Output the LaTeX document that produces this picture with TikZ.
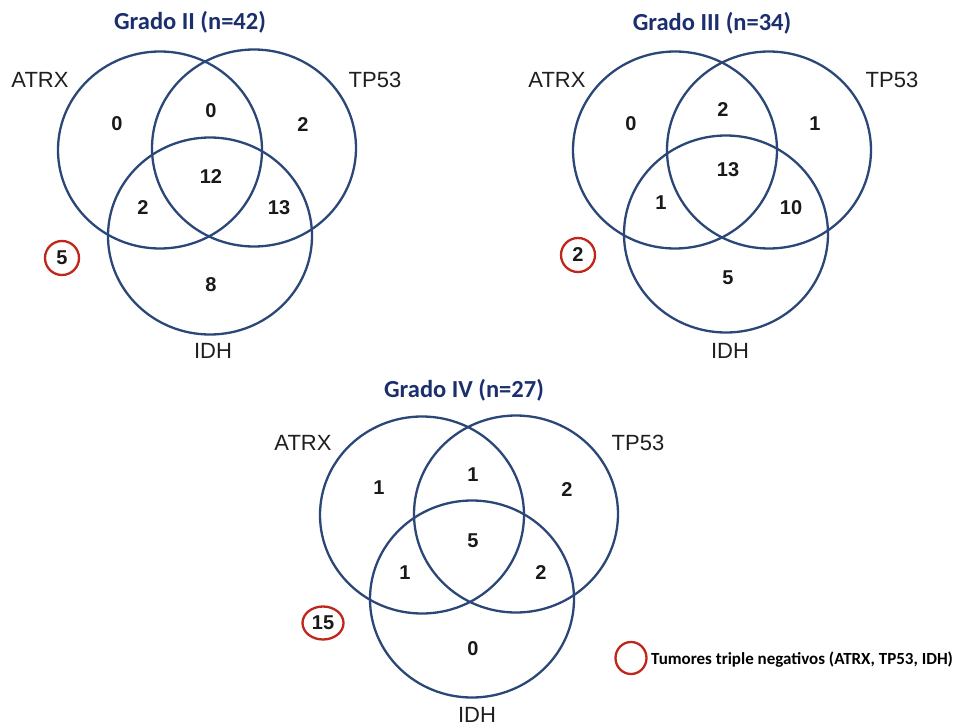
\documentclass[tikz,border=0pt]{standalone}
\usepackage{fontspec}
\setmainfont{Liberation Sans}
\newfontfamily\calfont{Carlito}
\usetikzlibrary{shapes.geometric}
\definecolor{navy}{HTML}{2B4778}
\definecolor{titleblue}{HTML}{1B2F6E}
\definecolor{negred}{HTML}{C0261A}
\begin{document}
\begin{tikzpicture}[x=1pt,y=-1pt,
  setring/.style={draw=navy, line width=2.3pt, ellipse, minimum width=204pt, minimum height=197pt, inner sep=0pt},
  setlabel/.style={font=\fontsize{22}{22}\selectfont, text=black!88, inner sep=0pt},
  count/.style={font=\bfseries\fontsize{20}{20}\selectfont, text=black!90, inner sep=0pt},
  gtitle/.style={font=\calfont\bfseries\fontsize{24.5}{24.5}\selectfont, text=titleblue, inner sep=0pt},
  negmark/.style={draw=negred, line width=2.3pt, ellipse, minimum width=34pt, minimum height=34pt, inner sep=0pt, font=\bfseries\fontsize{20}{20}\selectfont, text=black!90},
  legtext/.style={font=\calfont\bfseries\fontsize{17}{17}\selectfont, text=black, inner sep=0pt, anchor=west}]
\fill[white] (0,0) rectangle (956,728);
\useasboundingbox (0,0) rectangle (956,728);

% ---------- Grado II ----------
\node[gtitle] (t2) at (190,22) {Grado II (n=42)};
\node[setring] (a2) at (160,150) {};
\node[setring] (p2) at (254,148) {};
\node[setring] (i2) at (210,236) {};
\node[setlabel] (la2) at (40,80) {ATRX};
\node[setlabel] (lp2) at (375,80) {TP53};
\node[setlabel] (li2) at (213,351) {IDH};
\node[count] at (117,124) {0};
\node[count] at (211,111) {0};
\node[count] at (303,125) {2};
\node[count] at (211,177) {12};
\node[count] at (143,208) {2};
\node[count] at (279,208) {13};
\node[count] at (211,285) {8};
\node[negmark] (n2) at (62,258) {5};

% ---------- Grado III ----------
\node[gtitle] (t3) at (712,23) {Grado III (n=34)};
\node[setring] (a3) at (675,150) {};
\node[setring] (p3) at (769,150) {};
\node[setring] (i3) at (726,234) {};
\node[setlabel] (la3) at (557,80) {ATRX};
\node[setlabel] (lp3) at (892,80) {TP53};
\node[setlabel] (li3) at (730,351) {IDH};
\node[count] at (631,124) {0};
\node[count] at (723,110) {2};
\node[count] at (815,124) {1};
\node[count] at (728,170) {13};
\node[count] at (661,203) {1};
\node[count] at (791,208) {10};
\node[count] at (728,278) {5};
\node[negmark] (n3) at (578,255) {2};

% ---------- Grado IV ----------
\node[gtitle] (t4) at (464,390) {Grado IV (n=27)};
\node[setring] (a4) at (422,515) {};
\node[setring] (p4) at (516,514) {};
\node[setring] (i4) at (472,599) {};
\node[setlabel] (la4) at (303,443) {ATRX};
\node[setlabel] (lp4) at (638,443) {TP53};
\node[setlabel] (li4) at (477,715) {IDH};
\node[count] at (379,488) {1};
\node[count] at (473,475) {1};
\node[count] at (567,490) {2};
\node[count] at (473,541) {5};
\node[count] at (405,573) {1};
\node[count] at (541,573) {2};
\node[count] at (473,649) {0};
\node[negmark, minimum width=41pt, minimum height=33pt] (n4) at (323,623) {15};

% ---------- Legend ----------
\node[negmark, minimum width=31pt, minimum height=32pt] (lg) at (631,658) {};
\node[legtext] (lgt) at (651,660) {Tumores triple negativos (ATRX, TP53, IDH)};
\end{tikzpicture}
\end{document}
